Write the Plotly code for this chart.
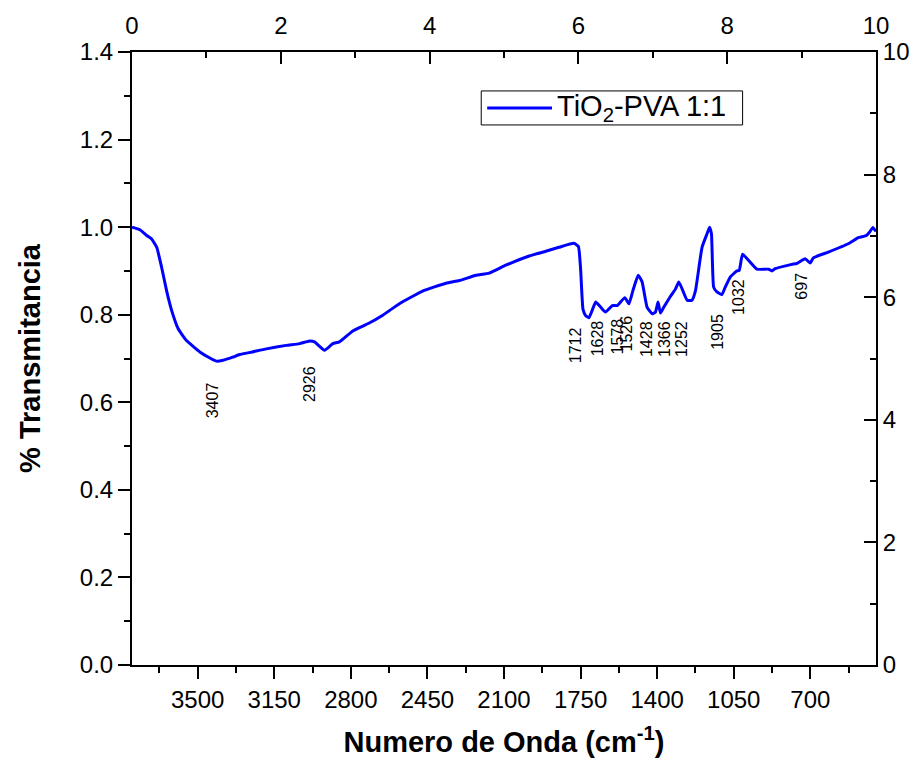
import plotly.graph_objects as go

# FTIR spectrum of the TiO2-PVA 1:1 film
wavenumber = [
    3800, 3764, 3733, 3710, 3687, 3665, 3642, 3619, 3589, 3551, 3490, 3440,
    3414, 3384, 3340, 3308, 3250, 3186, 3095, 3034, 2988, 2966, 2920, 2882,
    2852, 2791, 2720, 2654, 2578, 2472, 2365, 2304, 2228, 2168, 2092, 1985,
    1909, 1849, 1780, 1760, 1750, 1739, 1727, 1712, 1697, 1681, 1658, 1636,
    1605, 1583, 1548, 1529, 1511, 1487, 1469, 1446, 1423, 1408, 1396, 1385,
    1370, 1339, 1316, 1301, 1286, 1263, 1241, 1225, 1195, 1172, 1161, 1152,
    1142, 1127, 1104, 1089, 1066, 1036, 1025, 1010, 982, 944, 891, 876,
    861, 785, 762, 724, 701, 686, 618, 527, 481, 444, 429, 414, 400,
]
transmittance = [
    1.000, 0.994, 0.981, 0.973, 0.954, 0.909, 0.855, 0.810, 0.768, 0.741, 0.715, 0.700,
    0.694, 0.696, 0.703, 0.709, 0.715, 0.722, 0.730, 0.734, 0.740, 0.738, 0.719, 0.734,
    0.738, 0.763, 0.780, 0.799, 0.825, 0.854, 0.872, 0.878, 0.890, 0.895, 0.913, 0.934,
    0.945, 0.954, 0.963, 0.956, 0.905, 0.812, 0.798, 0.793, 0.810, 0.829, 0.817, 0.806,
    0.821, 0.821, 0.839, 0.825, 0.855, 0.890, 0.875, 0.817, 0.802, 0.806, 0.829, 0.804,
    0.817, 0.842, 0.859, 0.875, 0.859, 0.833, 0.833, 0.855, 0.954, 0.985, 1.000, 0.985,
    0.863, 0.852, 0.846, 0.863, 0.886, 0.900, 0.901, 0.938, 0.924, 0.904, 0.904, 0.900,
    0.905, 0.915, 0.917, 0.928, 0.918, 0.930, 0.943, 0.962, 0.976, 0.981, 0.989, 0.999, 0.990,
]

# Peak labels and where they sit on the plot
peak_labels = ["3407", "2926", "1712", "1628", "1578", "1526", "1428", "1366",
               "1252", "1905", "1032", "697"]
label_x = [3431, 2988, 1776, 1675, 1580, 1538, 1452, 1370, 1288, 1124, 1032, 741]
label_y = [0.604, 0.641, 0.730, 0.746, 0.750, 0.757, 0.744, 0.744, 0.744, 0.760, 0.840, 0.865]

bottom_ticks = [3500, 3150, 2800, 2450, 2100, 1750, 1400, 1050, 700]

SERIES_NAME = "TiO<sub>2</sub>-PVA 1:1"
LINE_COLOR = "#0000FF"
FONT = "Liberation Sans, Arial, sans-serif"

fig = go.Figure()
fig.add_trace(go.Scatter(
    x=wavenumber, y=transmittance, mode="lines",
    line=dict(color=LINE_COLOR, width=3, shape="spline", smoothing=0.4),
    name=SERIES_NAME, showlegend=False,
))
# secondary top/right frame axes
fig.add_trace(go.Scatter(x=[], y=[], xaxis="x2", yaxis="y2", showlegend=False))

for txt, xv, yv in zip(peak_labels, label_x, label_y):
    fig.add_annotation(x=xv, y=yv, text=txt, showarrow=False, textangle=-90,
                       font=dict(family=FONT, size=16, color="black"),
                       xref="x", yref="y")

# legend box drawn in paper coordinates
fig.add_shape(type="rect", xref="paper", yref="paper",
              x0=0.4694, x1=0.8207, y0=0.881, y1=0.9365,
              line=dict(color="black", width=1), fillcolor="white", layer="above")
fig.add_shape(type="line", xref="paper", yref="paper",
              x0=0.4774, x1=0.5645, y0=0.9088, y1=0.9088,
              line=dict(color=LINE_COLOR, width=3), layer="above")
fig.add_annotation(xref="paper", yref="paper", x=0.5685, y=0.9088,
                   xanchor="left", yanchor="middle", showarrow=False,
                   text=SERIES_NAME, font=dict(family=FONT, size=29, color="black"))

axis_common = dict(showline=True, linecolor="black", linewidth=2,
                   showgrid=False, zeroline=False,
                   tickfont=dict(family=FONT, size=24, color="black"),
                   tickcolor="black", tickwidth=2)

fig.update_layout(
    width=922, height=767,
    margin=dict(l=132, r=44, t=51, b=102),
    paper_bgcolor="white", plot_bgcolor="white",
    font=dict(family=FONT, color="black"),
    showlegend=False,
    xaxis=dict(
        range=[3800, 400], tickvals=bottom_ticks, ticks="outside", ticklen=12,
        minor=dict(dtick=175, tick0=3500, ticks="outside", ticklen=6,
                   tickcolor="black", tickwidth=2),
        title=dict(text="<b>Numero de Onda (cm<sup>-1</sup>)</b>",
                   font=dict(family=FONT, size=29, color="black"), standoff=20),
        **axis_common,
    ),
    yaxis=dict(
        range=[0, 1.4], dtick=0.2, tick0=0, tickformat=".1f",
        ticks="outside", ticklen=12,
        minor=dict(dtick=0.1, ticks="outside", ticklen=6,
                   tickcolor="black", tickwidth=2),
        title=dict(text="<b>% Transmitancia</b>",
                   font=dict(family=FONT, size=29, color="black"), standoff=31),
        **axis_common,
    ),
    xaxis2=dict(
        overlaying="x", side="top", anchor="y", range=[0, 10], dtick=2, tick0=0,
        ticks="inside", ticklen=12, ticklabelstandoff=6,
        minor=dict(dtick=1, ticks="inside", ticklen=6,
                   tickcolor="black", tickwidth=2),
        **axis_common,
    ),
    yaxis2=dict(
        overlaying="y", side="right", anchor="x", range=[0, 10], dtick=2, tick0=0,
        ticks="inside", ticklen=12,
        minor=dict(dtick=1, ticks="inside", ticklen=6,
                   tickcolor="black", tickwidth=2),
        **axis_common,
    ),
)

fig.write_html("out.html")
